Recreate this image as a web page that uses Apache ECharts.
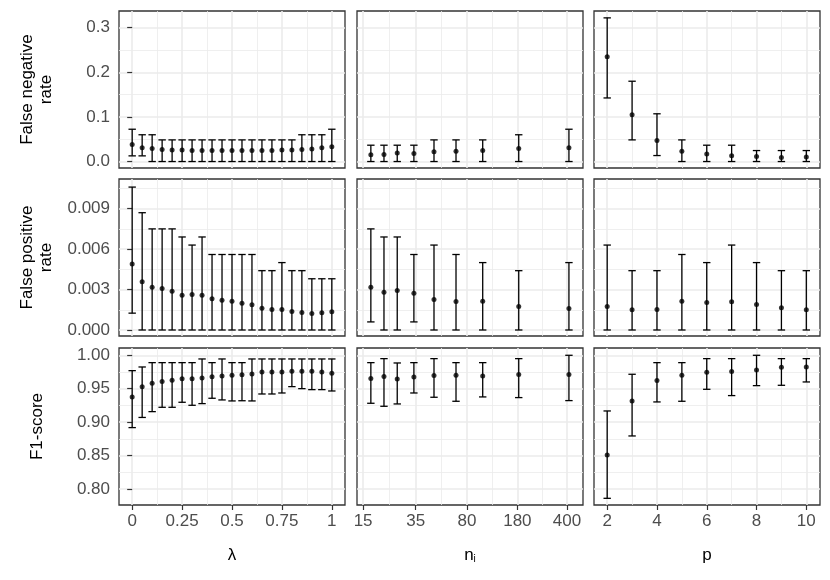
<!DOCTYPE html>
<html>
<head>
<meta charset="utf-8">
<script src="https://cdn.jsdelivr.net/npm/echarts@6/dist/echarts.min.js"></script>
<style>
  html, body { margin: 0; padding: 0; background: #fff; }
  #chart { width: 830px; height: 580px; }
</style>
</head>
<body>
<div id="chart"></div>
<script>
// x values of the three facets
var lambdaVals = [0, 0.05, 0.1, 0.15, 0.2, 0.25, 0.3, 0.35, 0.4, 0.45, 0.5, 0.55, 0.6, 0.65, 0.7, 0.75, 0.8, 0.85, 0.9, 0.95, 1];
var niVals = [17, 21, 26, 34, 47, 67, 103, 184, 413];
var pVals = [2, 3, 4, 5, 6, 7, 8, 9, 10];

// tick marks (major / minor)
var lambdaTicks = [0, 0.25, 0.5, 0.75, 1];
var lambdaMinor = [0.125, 0.375, 0.625, 0.875];
var niTicks = [15, 35, 80, 180, 400];
var niMinor = [22.9, 52.9, 120, 268.3];
var pTicks = [2, 4, 6, 8, 10];
var pMinor = [3, 5, 7, 9];
var fnrTicks = [0, 0.1, 0.2, 0.3];
var fnrMinor = [0.05, 0.15, 0.25];
var fprTicks = [0, 0.003, 0.006, 0.009];
var fprMinor = [0.0015, 0.0045, 0.0075, 0.0105];
var f1Ticks = [0.80, 0.85, 0.90, 0.95, 1.00];
var f1Minor = [0.825, 0.875, 0.925, 0.975];

// false negative rate
var fnrLambdaMean = [0.038, 0.031, 0.029, 0.027, 0.026, 0.026, 0.025, 0.025, 0.025, 0.025, 0.025, 0.025, 0.025, 0.025, 0.025, 0.026, 0.026, 0.027, 0.028, 0.031, 0.033];
var fnrLambdaLo = [0.0127, 0.0127, 0, 0, 0, 0, 0, 0, 0, 0, 0, 0, 0, 0, 0, 0, 0, 0, 0, 0, 0];
var fnrLambdaHi = [0.0724, 0.060, 0.060, 0.0485, 0.0485, 0.0485, 0.0485, 0.0485, 0.0485, 0.0485, 0.0485, 0.0485, 0.0485, 0.0485, 0.0485, 0.0485, 0.0485, 0.060, 0.060, 0.060, 0.0724];
var fnrNiMean = [0.015, 0.016, 0.019, 0.018, 0.022, 0.023, 0.025, 0.029, 0.031];
var fnrNiLo = [0, 0, 0, 0, 0, 0, 0, 0, 0];
var fnrNiHi = [0.0366, 0.0366, 0.0366, 0.0366, 0.0485, 0.0485, 0.0485, 0.060, 0.0724];
var fnrPMean = [0.235, 0.105, 0.047, 0.023, 0.017, 0.013, 0.011, 0.009, 0.010];
var fnrPLo = [0.1425, 0.0485, 0.0134, 0, 0, 0, 0, 0, 0];
var fnrPHi = [0.322, 0.180, 0.107, 0.0485, 0.0366, 0.0366, 0.0246, 0.0246, 0.0246];

// false positive rate
var fprLambdaMean = [0.00489, 0.00357, 0.00317, 0.00307, 0.00288, 0.00258, 0.00263, 0.00258, 0.00231, 0.00221, 0.00214, 0.00199, 0.00187, 0.00162, 0.00152, 0.00152, 0.00138, 0.00130, 0.00123, 0.00128, 0.00135];
var fprLambdaLo = [0.00125, 0, 0, 0, 0, 0, 0, 0, 0, 0, 0, 0, 0, 0, 0, 0, 0, 0, 0, 0, 0];
var fprLambdaHi = [0.0106, 0.0087, 0.0075, 0.0075, 0.0075, 0.0069, 0.0063, 0.0069, 0.0056, 0.0056, 0.0056, 0.0056, 0.0056, 0.0044, 0.0044, 0.0050, 0.0044, 0.0044, 0.0038, 0.0038, 0.0038];
var fprNiMean = [0.00317, 0.0028, 0.00293, 0.00273, 0.00226, 0.00211, 0.00214, 0.00175, 0.0016];
var fprNiLo = [0.0006, 0, 0, 0.0006, 0, 0, 0, 0, 0];
var fprNiHi = [0.0075, 0.0069, 0.0069, 0.0056, 0.0063, 0.0056, 0.0050, 0.0044, 0.0050];
var fprPMean = [0.00175, 0.0015, 0.00152, 0.00214, 0.00204, 0.00209, 0.00189, 0.00165, 0.0015];
var fprPLo = [0, 0, 0, 0, 0, 0, 0, 0, 0];
var fprPHi = [0.0063, 0.0044, 0.0044, 0.0056, 0.0050, 0.0063, 0.0050, 0.0044, 0.0044];

// F1-score
var f1LambdaMean = [0.9377, 0.9531, 0.958, 0.9606, 0.9626, 0.965, 0.965, 0.966, 0.968, 0.969, 0.970, 0.971, 0.972, 0.975, 0.975, 0.975, 0.976, 0.976, 0.976, 0.975, 0.973];
var f1LambdaLo = [0.8918, 0.907, 0.9157, 0.9222, 0.9222, 0.9297, 0.9252, 0.9277, 0.9357, 0.9332, 0.9317, 0.932, 0.9317, 0.9421, 0.9421, 0.9436, 0.9531, 0.9501, 0.9486, 0.9486, 0.9466];
var f1LambdaHi = [0.977, 0.9825, 0.989, 0.989, 0.989, 0.989, 0.989, 0.9945, 0.989, 0.9945, 0.989, 0.989, 0.9945, 0.9945, 0.9945, 0.9945, 0.9945, 0.9945, 0.9945, 0.9945, 0.9945];
var f1NiMean = [0.9651, 0.9681, 0.9646, 0.9676, 0.9696, 0.9701, 0.9691, 0.9711, 0.9711];
var f1NiLo = [0.9282, 0.9237, 0.9272, 0.9436, 0.9372, 0.9312, 0.9377, 0.9367, 0.9322];
var f1NiHi = [0.989, 0.995, 0.9885, 0.989, 0.995, 0.989, 0.989, 0.995, 1.0];
var f1PMean = [0.8509, 0.9317, 0.9621, 0.9701, 0.9746, 0.9756, 0.9781, 0.982, 0.9825];
var f1PLo = [0.786, 0.8793, 0.9302, 0.9312, 0.9491, 0.9397, 0.9546, 0.9551, 0.9601];
var f1PHi = [0.9167, 0.9716, 0.989, 0.989, 0.995, 0.995, 1.0, 0.995, 0.995];

var FONT = '"Liberation Sans", Arial, Helvetica, sans-serif';
var GRID_COL = '#EBEBEB';

var colLeft = [119, 357, 594], colW = 226;
var rowTop = [11, 179, 348], rowH = 157;

var cols = [
  {type: 'value', min: -0.066, max: 1.066, x: lambdaVals, major: lambdaTicks, minor: lambdaMinor, name: 'λ'},
  {type: 'log', min: 13.6, max: 518, x: niVals, major: niTicks, minor: niMinor, name: '{n|n}{s|i}'},
  {type: 'value', min: 1.47, max: 10.55, x: pVals, major: pTicks, minor: pMinor, name: 'p'}
];
var rows = [
  {min: -0.0145, max: 0.3374, major: fnrTicks, minor: fnrMinor, dec: 1, name: 'False negative\nrate',
   data: [[fnrLambdaMean, fnrLambdaLo, fnrLambdaHi], [fnrNiMean, fnrNiLo, fnrNiHi], [fnrPMean, fnrPLo, fnrPHi]]},
  {min: -0.000445, max: 0.0112, major: fprTicks, minor: fprMinor, dec: 3, name: 'False positive\nrate',
   data: [[fprLambdaMean, fprLambdaLo, fprLambdaHi], [fprNiMean, fprNiLo, fprNiHi], [fprPMean, fprPLo, fprPHi]]},
  {min: 0.776, max: 1.0109, major: f1Ticks, minor: f1Minor, dec: 2, name: 'F1-score',
   data: [[f1LambdaMean, f1LambdaLo, f1LambdaHi], [f1NiMean, f1NiLo, f1NiHi], [f1PMean, f1PLo, f1PHi]]}
];

var grids = [], xAxes = [], yAxes = [], series = [];

function errorBars(ax, xs, lo, hi) {
  return {
    type: 'custom', xAxisIndex: ax, yAxisIndex: ax, silent: true, z: 3,
    data: xs.map(function (x, k) { return [x, lo[k], hi[k]]; }),
    encode: {x: 0, y: [1, 2]},
    renderItem: function (params, api) {
      var top = api.coord([api.value(0), api.value(2)]);
      var bot = api.coord([api.value(0), api.value(1)]);
      var w = 3.7, st = {stroke: '#000', lineWidth: 1.3};
      return {type: 'group', children: [
        {type: 'line', shape: {x1: top[0], y1: top[1], x2: bot[0], y2: bot[1]}, style: st},
        {type: 'line', shape: {x1: top[0] - w, y1: top[1], x2: top[0] + w, y2: top[1]}, style: st},
        {type: 'line', shape: {x1: bot[0] - w, y1: bot[1], x2: bot[0] + w, y2: bot[1]}, style: st}
      ]};
    }
  };
}

for (var r = 0; r < 3; r++) {
  for (var c = 0; c < 3; c++) {
    var g = r * 3 + c;
    var cx = cols[c], ry = rows[r];
    var bottomRow = (r === 2), leftCol = (c === 0);
    grids.push({left: colLeft[c], top: rowTop[r], width: colW, height: rowH,
      show: true, borderColor: '#333333', borderWidth: 1.3, backgroundColor: '#fff'});

    // major x axis
    xAxes.push({
      type: cx.type, logBase: 10, gridIndex: g, min: cx.min, max: cx.max,
      name: bottomRow ? cx.name : '', nameLocation: 'middle', nameGap: 42,
      nameTextStyle: {fontFamily: FONT, fontSize: 17, color: '#000',
        rich: {n: {fontFamily: FONT, fontSize: 17, color: '#000'},
               s: {fontFamily: FONT, fontSize: 10, color: '#000', padding: [7, 0, 0, 0]}}},
      axisLine: {show: false},
      axisTick: {show: bottomRow, length: 5, customValues: cx.major, lineStyle: {color: '#333333', width: 1.2}},
      axisLabel: {show: bottomRow, customValues: cx.major, margin: 8, fontFamily: FONT, fontSize: 17, color: '#4D4D4D',
        formatter: function (v) { return String(v); }},
      splitLine: {show: true, lineStyle: {color: GRID_COL, width: 1.6}}
    });
    // minor x grid lines
    xAxes.push({
      type: cx.type, logBase: 10, gridIndex: g, min: cx.min, max: cx.max,
      axisLine: {show: false}, axisLabel: {show: false},
      axisTick: {show: false, customValues: cx.minor},
      splitLine: {show: true, lineStyle: {color: GRID_COL, width: 0.8}}
    });

    (function (dec) {
      yAxes.push({
        type: 'value', gridIndex: g, min: ry.min, max: ry.max,
        name: leftCol ? ry.name : '', nameLocation: 'middle', nameRotate: 90, nameGap: 82,
        nameTextStyle: {fontFamily: FONT, fontSize: 17, color: '#000', lineHeight: 19,
          align: 'center', verticalAlign: 'middle'},
        axisLine: {show: false},
        axisTick: {show: leftCol, length: 5, customValues: ry.major, lineStyle: {color: '#333333', width: 1.2}},
        axisLabel: {show: leftCol, customValues: ry.major, margin: 9, fontFamily: FONT, fontSize: 17, color: '#4D4D4D',
          formatter: function (v) { return v.toFixed(dec); }},
        splitLine: {show: true, lineStyle: {color: GRID_COL, width: 1.6}}
      });
    })(ry.dec);
    yAxes.push({
      type: 'value', gridIndex: g, min: ry.min, max: ry.max,
      axisLine: {show: false}, axisLabel: {show: false},
      axisTick: {show: false, customValues: ry.minor},
      splitLine: {show: true, lineStyle: {color: GRID_COL, width: 0.8}}
    });

    var d = ry.data[c];
    series.push(errorBars(2 * g, cx.x, d[1], d[2]));
    series.push({
      type: 'scatter', xAxisIndex: 2 * g, yAxisIndex: 2 * g, silent: true, z: 4,
      symbolSize: 5, itemStyle: {color: '#000'},
      data: cx.x.map(function (x, k) { return [x, d[0][k]]; })
    });
  }
}

var chart = echarts.init(document.getElementById('chart'), null, {renderer: 'canvas'});
chart.setOption({
  animation: false,
  backgroundColor: '#fff',
  grid: grids,
  xAxis: xAxes,
  yAxis: yAxes,
  series: series
});
</script>
</body>
</html>
